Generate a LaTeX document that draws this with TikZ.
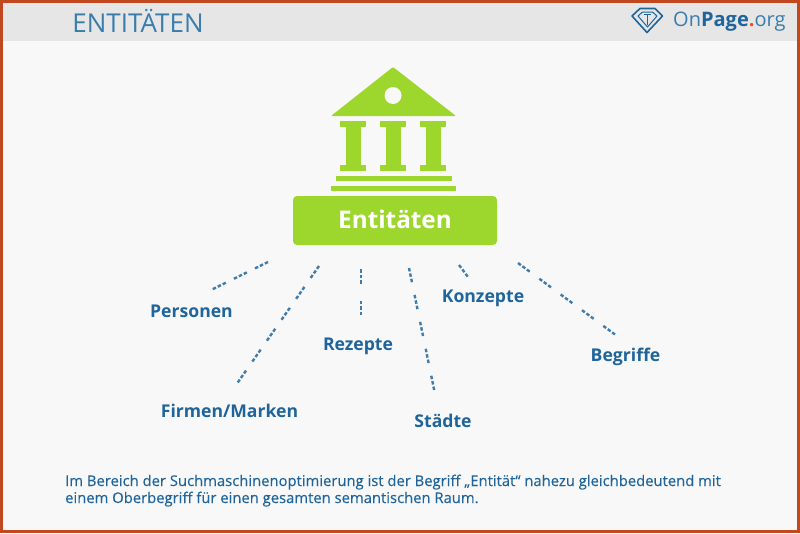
\documentclass[tikz,border=0pt]{standalone}
\usepackage{fontspec}
\setmainfont{Open Sans}
\newfontfamily\medfont[FakeBold=0.25]{Open Sans}
\usepackage{xcolor}
\definecolor{frame1}{HTML}{C1471E}
\definecolor{head1}{HTML}{E6E6E6}
\definecolor{back1}{HTML}{F8F8F8}
\definecolor{green1}{HTML}{9DD62C}
\definecolor{blue1}{HTML}{1F659B}
\definecolor{blue2}{HTML}{3A7CAC}
\definecolor{dot1}{HTML}{F0501E}
\newcommand{\sz}[1]{\fontsize{#1}{#1}\selectfont}
\tikzset{
  topic/.style={color=blue1,font=\sz{17.6}\bfseries,inner sep=0pt,anchor=base},
  body/.style={color=blue1,font=\sz{14.8}\medfont,inner sep=0pt,anchor=base west},
  dots/.style={color=blue1!85!white,line width=2.4pt,dash pattern=on 3.5pt off 2pt on 3.5pt off 2pt on 3.5pt off #1},
  dots/.default=11pt,
}

\begin{document}
\begin{tikzpicture}[x=1pt,y=-1pt]
  \useasboundingbox (0,0) rectangle (800,533);
  \fill[frame1] (0,0) rectangle (800,533);
  \fill[back1] (3,3) rectangle (797,530);
  \fill[head1] (3,3) rectangle (797,41);

  \node[color=blue2,font=\sz{26},inner sep=0pt](title) at (138,20.5) {ENTITÄTEN};

  % logo
  \draw[blue1,line width=1.6pt,line join=round] (632,16) -- (640,8.5) -- (655,8.5) -- (662.5,16) -- (647,32.5) -- cycle;
  \draw[blue1,line width=1pt,line join=round] (638,16) -- (642.5,12) -- (652.5,12) -- (657,16) -- (647.5,27) -- cycle;
  \draw[blue1,line width=1pt] (644,14) -- (651,14) (647.5,14) -- (647.5,25);
  \node[color=blue2,font=\sz{20},inner sep=0pt,anchor=west](logo) at (673,22) {On{\color{blue1}\bfseries Page}{\color{dot1}\bfseries .}org};

  % building
  \fill[green1,rounded corners=1pt] (393,67) -- (456,116) -- (331,116) -- cycle;
  \fill[back1] (393,95.5) circle (8.5);
  \begin{scope}[shift={(353,0)}]
    \fill[green1] (-13,121) rectangle (13,127);
    \fill[green1] (-7.5,127) rectangle (7.5,165);
    \fill[green1] (-13,165) rectangle (13,171);
  \end{scope}
  \begin{scope}[shift={(393,0)}]
    \fill[green1] (-13,121) rectangle (13,127);
    \fill[green1] (-7.5,127) rectangle (7.5,165);
    \fill[green1] (-13,165) rectangle (13,171);
  \end{scope}
  \begin{scope}[shift={(433,0)}]
    \fill[green1] (-13,121) rectangle (13,127);
    \fill[green1] (-7.5,127) rectangle (7.5,165);
    \fill[green1] (-13,165) rectangle (13,171);
  \end{scope}
  \fill[green1] (336,176) rectangle (452,181);
  \fill[green1] (331,186) rectangle (456,191);

  \node[fill=green1,text=white,rounded corners=4pt,minimum width=204pt,minimum height=49pt,inner sep=0pt,font=\sz{24.3}\bfseries](ent) at (395,220.5) {\raisebox{2pt}{Entitäten}};

  \node[topic](per) at (191.5,317) {Personen};
  \node[topic](fir) at (229.5,417) {Firmen/Marken};
  \node[topic](rez) at (358,350) {Rezepte};
  \node[topic](sta) at (443,427) {Städte};
  \node[topic](kon) at (483,302) {Konzepte};
  \node[topic](beg) at (625.5,361) {Begriffe};

  \coordinate(per0) at (268,262);
  \coordinate(per1) at (211,290);
  \coordinate(fir0) at (319,266);
  \coordinate(fir1) at (236,385);
  \coordinate(rez0) at (361,269);
  \coordinate(rez1) at (361,318);
  \coordinate(sta0) at (409,268);
  \coordinate(sta1) at (435,394);
  \coordinate(kon0) at (459,265);
  \coordinate(kon1) at (468,277);
  \coordinate(beg0) at (518,263);
  \coordinate(beg1) at (617,336);

  \draw[dots=9pt] (per0) -- (per1);
  \draw[dots] (fir0) -- (fir1);
  \draw[dots=17pt] (rez0) -- (rez1);
  \draw[dots=13pt] (sta0) -- (sta1);
  \draw[dots] (kon0) -- (kon1);
  \draw[dots=12pt] (beg0) -- (beg1);

  \node[body](txt1) at (65,486) {Im Bereich der Suchmaschinenoptimierung ist der Begriff „Entität“ nahezu gleichbedeutend mit};
  \node[body](txt2) at (65,503) {einem Oberbegriff für einen gesamten semantischen Raum.};
\end{tikzpicture}
\end{document}
